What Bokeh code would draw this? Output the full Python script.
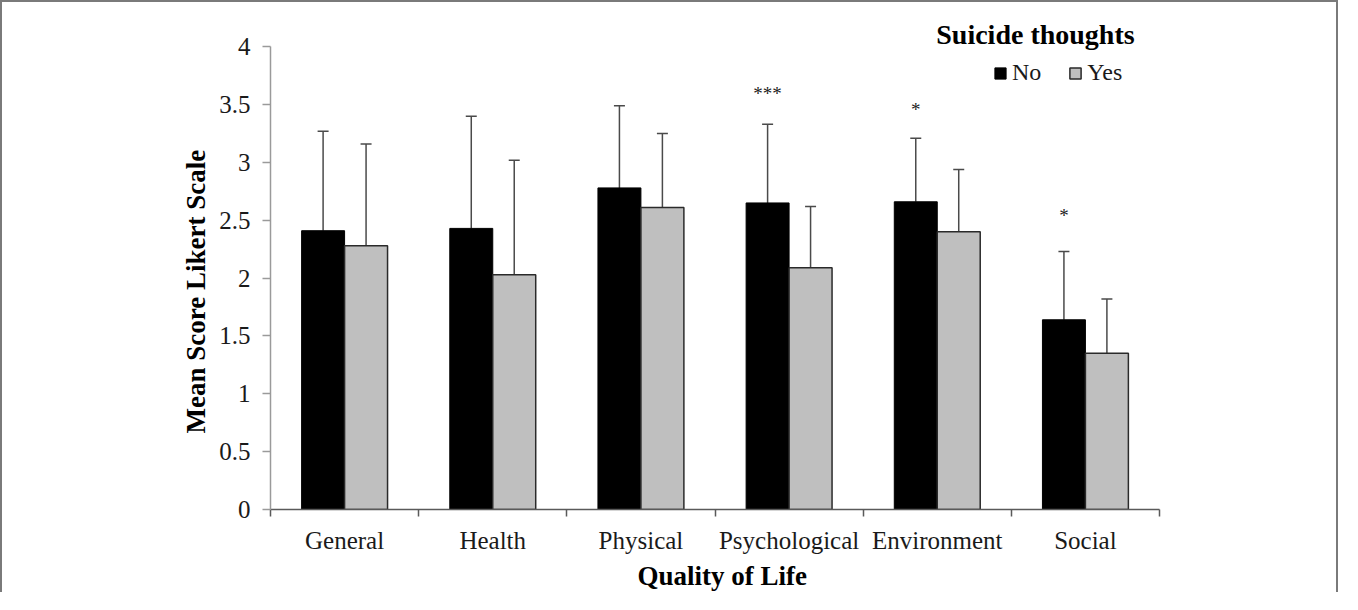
from bokeh.plotting import figure
from bokeh.models import (Range1d, FixedTicker, Whisker, ColumnDataSource, Legend,
                          LegendItem, Label, TeeHead, Title)
from bokeh.embed import file_html
from bokeh.resources import INLINE
from bokeh.core.properties import value

# ---------------- data ----------------
categories = ["General", "Health", "Physical", "Psychological", "Environment", "Social"]
no_mean = [2.41, 2.43, 2.78, 2.65, 2.66, 1.64]
no_sd = [0.86, 0.97, 0.71, 0.68, 0.55, 0.59]
yes_mean = [2.28, 2.03, 2.61, 2.09, 2.40, 1.35]
yes_sd = [0.88, 0.99, 0.64, 0.53, 0.54, 0.47]
stars = ["", "", "", "***", "*", "*"]
star_y = [0, 0, 0, 3.605, 3.467, 2.554]
y_ticks = [0, 0.5, 1, 1.5, 2, 2.5, 3, 3.5, 4]
y_tick_labels = ["0", "0.5", "1", "1.5", "2", "2.5", "3", "3.5", "4"]
series_names = ["No", "Yes"]
legend_title = "Suicide thoughts"
x_title = "Quality of Life"
y_title = "Mean Score Likert Scale"

# ---------------- layout ----------------
FONT = "Liberation Serif"
W, H = 1338, 592
LEFT = 268
FRAME_RIGHT = 1157
FRAME_TOP = 4
ZERO_Y = 507.3
PX_PER_UNIT = 115.75
CAT_PX = 148.0
y_end = (ZERO_Y - FRAME_TOP) / PX_PER_UNIT


def px_to_y(py):
    return (ZERO_Y - py) / PX_PER_UNIT


def px_to_x(px):
    return (px - LEFT) / CAT_PX


n = len(categories)
bar_w = 0.29
off_no, off_yes = 0.355, 0.645

p = figure(width=W, height=H, output_backend="svg", toolbar_location=None,
           x_range=Range1d(0, n), y_range=Range1d(0, y_end),
           min_border_left=LEFT, min_border_right=W - FRAME_RIGHT,
           min_border_top=FRAME_TOP, min_border_bottom=int(round(H - ZERO_Y)))
p.styles = {"border-top": "2px solid #7a7a7a", "border-left": "2px solid #7a7a7a",
            "border-right": "2px solid #7a7a7a"}
p.outline_line_color = None
p.xgrid.visible = False
p.ygrid.visible = False
p.background_fill_color = "white"
p.border_fill_color = "white"

src = ColumnDataSource(dict(
    x_no=[i + off_no for i in range(n)],
    x_yes=[i + off_yes for i in range(n)],
    no=no_mean, yes=yes_mean,
    no_up=[m + s for m, s in zip(no_mean, no_sd)],
    yes_up=[m + s for m, s in zip(yes_mean, yes_sd)],
    star=stars, star_y=star_y,
))

r_no = p.vbar(x="x_no", top="no", width=bar_w, source=src, fill_color="#000000",
              line_color="#000000", line_width=1)
r_yes = p.vbar(x="x_yes", top="yes", width=bar_w, source=src, fill_color="#bfbfbf",
               line_color="#2a2a2a", line_width=1.5)

for xcol, lo, hi in (("x_no", "no", "no_up"), ("x_yes", "yes", "yes_up")):
    w = Whisker(base=xcol, lower=lo, upper=hi, source=src, dimension="height",
                line_color="#4a4a4a", line_width=1.5, lower_head=None,
                upper_head=TeeHead(size=11, line_color="#4a4a4a", line_width=1.5))
    p.add_layout(w)

p.text(x="x_no", y="star_y", text="star", source=src, text_font=value(FONT),
       text_font_size="19px", text_align="center", text_baseline="middle",
       text_color="#222222", y_offset=1)

# ---------------- axes ----------------
yax = p.yaxis[0]
yax.ticker = FixedTicker(ticks=y_ticks)
yax.major_label_overrides = {t: l for t, l in zip(y_ticks, y_tick_labels)}
yax.bounds = (0, 4)
yax.axis_line_color = "#9a9a9a"
yax.axis_line_width = 1.5
yax.major_tick_line_color = "#9a9a9a"
yax.major_tick_line_width = 1.5
yax.major_tick_out = 8
yax.major_tick_in = 0
yax.minor_tick_line_color = None
yax.major_label_standoff = 12
yax.major_label_text_font = FONT
yax.major_label_text_font_size = "25px"
yax.major_label_text_color = "#1a1a1a"

xax = p.xaxis[0]
xax.ticker = FixedTicker(ticks=[i + 0.5 for i in range(n)],
                         minor_ticks=list(range(n + 1)))
xax.major_label_overrides = {i + 0.5: c for i, c in enumerate(categories)}
xax.bounds = (0, n)
xax.axis_line_color = "#5a5a5a"
xax.axis_line_width = 1.5
xax.major_tick_line_color = None
xax.major_tick_out = 0
xax.major_tick_in = 0
xax.minor_tick_line_color = "#5a5a5a"
xax.minor_tick_line_width = 1.5
xax.minor_tick_out = 7
xax.minor_tick_in = 0
xax.major_label_standoff = 10
xax.major_label_text_font = FONT
xax.major_label_text_font_size = "25px"
xax.major_label_text_color = "#1a1a1a"

# axis titles as side titles
p.add_layout(Title(text=y_title, align="left", offset=76, vertical_align="middle",
                   text_font=FONT, text_font_size="27px", text_font_style="bold",
                   text_color="#000000", standoff=10), "left")
p.add_layout(Title(text=x_title, align="left", offset=367, vertical_align="bottom",
                   text_font=FONT, text_font_size="27px", text_font_style="bold",
                   text_color="#000000", standoff=4), "below")

# ---------------- legend ----------------
legend = Legend(items=[LegendItem(label=series_names[0], renderers=[r_no]),
                       LegendItem(label=series_names[1], renderers=[r_yes])],
                orientation="horizontal", location=(723, 423),
                glyph_width=14, glyph_height=14, label_standoff=5, spacing=27,
                padding=0, margin=0, border_line_color=None,
                background_fill_alpha=0,
                label_text_font=FONT, label_text_font_size="24px",
                label_text_color="#1a1a1a")
p.add_layout(legend)

p.add_layout(Label(x=px_to_x(933), y=px_to_y(32), text=legend_title,
                   text_font=FONT, text_font_size="28px", text_font_style="bold",
                   text_baseline="middle", text_align="left", text_color="#000000"))

open("out.html", "w").write(file_html(p, INLINE))
